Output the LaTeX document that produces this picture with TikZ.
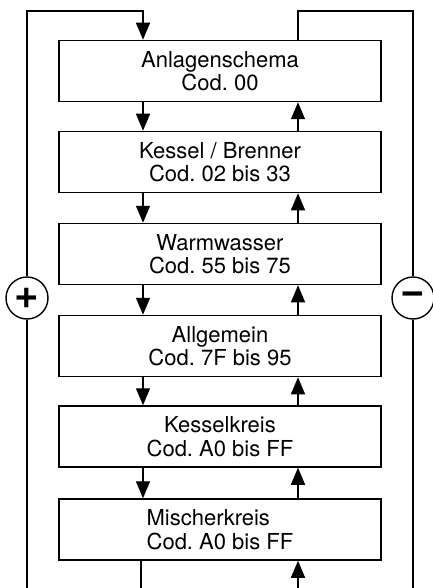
\documentclass[tikz,border=0pt]{standalone}
\usepackage{fontspec}
\setmainfont{TeX Gyre Heros}
\frenchspacing
\usetikzlibrary{arrows.meta,calc}
\begin{document}
\begin{tikzpicture}[x=1pt,y=-1pt,
  codebox/.style={draw,line width=1.5pt,minimum width=322pt,minimum height=61pt,inner sep=0pt,
    font=\fontsize{22}{23.5}\selectfont,align=center},
  conn/.style={line width=1.4pt},
  arr/.style={conn,-{Triangle[length=17pt,width=14pt]}},
  sign/.style={draw,circle,line width=1.4pt,minimum size=42pt,inner sep=0pt,
    font=\fontsize{42}{42}\selectfont\bfseries}]
\useasboundingbox (0,0) rectangle (432,588);
\node[codebox] (b1) at (220,71)    {Anlagenschema\\Cod. 00};
\node[codebox] (b2) at (220,162)   {Kessel / Brenner\\Cod. 02 bis 33};
\node[codebox] (b3) at (220,254)   {Warmwasser\\Cod. 55 bis 75};
\node[codebox] (b4) at (220,346)   {Allgemein\\Cod. 7F bis 95};
\node[codebox] (b5) at (220,436.5) {Kesselkreis\\Cod. A0 bis FF};
\node[codebox,align=left] (b6) at (220,529.5) {Mischerkreis\\Cod. A0 bis FF};
\coordinate (dx) at (143,0);
\coordinate (ux) at (298,0);
\node[sign] (plus) at (27,298) {\raisebox{-1pt}{+}};
\node[sign] (minus) at (413,298) {\raisebox{-1pt}{\char"2212}};
\coordinate (tl) at (27,11);
\coordinate (tr) at (413,11);
\coordinate (bl) at (27,588);
\coordinate (br) at (413,588);
\coordinate (bd) at (141,588);
\coordinate (bu) at (298,588);
% arrows between boxes
\foreach \a/\b in {b1/b2,b2/b3,b3/b4,b4/b5,b5/b6}{
  \draw[arr] (\a.south -| dx) -- (\b.north -| dx);
  \draw[arr] (\b.north -| ux) -- (\a.south -| ux);
}
% left loop
\draw[conn] (bl) -- (plus.south);
\draw[arr] (plus.north) -- (tl) -- (tl -| dx) -- (b1.north -| dx);
\draw[conn] (b6.south -| bd) -- (bd);
% right loop
\draw[conn] (b1.north -| ux) -- (tr -| ux) -- (tr) -- (minus.north);
\draw[conn] (minus.south) -- (br);
\draw[arr] (bu) -- (b6.south -| bu);
\end{tikzpicture}
\end{document}
